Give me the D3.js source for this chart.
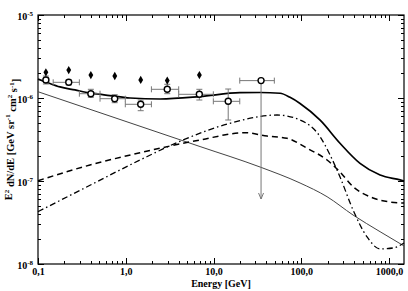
<!DOCTYPE html>
<html lang="en">
<head>
<meta charset="utf-8">
<title>Gamma-ray spectrum</title>
<style>
body{
  margin: 0;
  background: #fff;
}
#chart text{
  font-family: "Liberation Serif", "DejaVu Serif", serif;
  font-weight: bold;
  fill: #000;
}
.axis path.domain{
  display: none;
}
.axis line{
  stroke: #000;
  shape-rendering: crispEdges;
}
</style>
<script src="https://d3js.org/d3.v7.min.js"></script>
</head>
<body>
<div id="chart"></div>
<script>
/* filled diamonds */
var diamondE = [0.123, 0.224, 0.40, 0.75, 1.48, 2.97, 6.9];
var diamondFlux = [2.04e-6, 2.17e-6, 1.89e-6, 1.84e-6, 1.65e-6, 1.62e-6, 1.89e-6];

/* open circles with error bars */
var pointE = [0.123, 0.224, 0.40, 0.748, 1.48, 2.97, 6.89, 14.7];
var pointElo = [0.117, 0.149, 0.296, 0.509, 0.988, 1.96, 4.01, 9.95];
var pointEhi = [0.132, 0.296, 0.509, 0.988, 1.96, 4.01, 9.95, 19.9];
var pointFlux = [1.65e-6, 1.545e-6, 1.127e-6, 9.81e-7, 8.40e-7, 1.273e-6, 1.108e-6, 9.12e-7];
var pointFluxHi = [1.84e-6, 1.65e-6, 1.273e-6, 1.096e-6, 9.46e-7, 1.463e-6, 1.273e-6, 1.283e-6];
var pointFluxLo = [1.475e-6, 1.435e-6, 1.02e-6, 8.78e-7, 7.03e-7, 1.127e-6, 9.46e-7, 5.43e-7];

/* upper limit point */
var limitE = [34.8], limitElo = [19.9], limitEhi = [49.3];
var limitFlux = [1.62e-6], limitArrowTo = [6.07e-8];

/* model curves */
var totalE = [0.1, 0.123, 0.178, 0.264, 0.391, 0.661, 1.12, 2.46, 7.0, 20.0, 33.9, 57.3, 74.4, 96.8, 164, 276, 467, 790, 1335, 1480];
var totalFlux = [1.69e-6, 1.56e-6, 1.36e-6, 1.25e-6, 1.15e-6, 1.07e-6, 1.0e-6, 9.73e-7, 1.04e-6, 1.16e-6, 1.165e-6, 1.14e-6, 1.02e-6, 8.6e-7, 5.4e-7, 2.85e-7, 1.63e-7, 1.18e-7, 1.03e-7, 1.0e-7];

var thinE = [0.1, 0.86, 7.02, 33.9, 96.8, 196.6, 389, 790, 1480];
var thinFlux = [1.19e-6, 5.51e-7, 2.60e-7, 1.474e-7, 9.46e-8, 6.47e-8, 3.89e-8, 2.45e-8, 1.65e-8];

var dashE = [0.1, 0.391, 1.453, 7.02, 22.9, 40.7, 68.8, 116.3, 196.6, 276, 389, 657, 1027, 1480];
var dashFlux = [1.008e-7, 1.559e-7, 2.19e-7, 3.12e-7, 3.82e-7, 3.48e-7, 3.27e-7, 2.48e-7, 1.79e-7, 1.284e-7, 8.54e-8, 6.24e-8, 5.58e-8, 5.43e-8];

var dashDotE = [0.1, 0.391, 1.453, 4.49, 15.4, 52.9, 96.8, 163.6, 212.6, 276.4, 389, 561.5, 790, 1111, 1480];
var dashDotFlux = [4.27e-8, 8.88e-8, 1.79e-7, 3.12e-7, 4.96e-7, 6.24e-7, 5.43e-7, 3.42e-7, 2.06e-7, 1.117e-7, 4.47e-8, 2.12e-8, 1.52e-8, 1.56e-8, 1.79e-8];

/* ticks */
var xMajor = [0.1, 1, 10, 100, 1000];
var xLabels = ['0,1', '1,0', '10,0', '100,0', '1000,0'];
var yMajor = [1e-8, 1e-7, 1e-6, 1e-5];
var yExp = ['-8', '-7', '-6', '-5'];

var W = 408, H = 291;
var margin = { top: 15, right: 4, bottom: 27, left: 38 };
var width = W - margin.left - margin.right, height = H - margin.top - margin.bottom;

var xScale = d3.scaleLog().domain([0.1, 1480]).range([0, width]);
var yScale = d3.scaleLog().domain([1e-8, 1e-5]).range([height, 0]);

var svg = d3.select('#chart').append('svg')
  .attr('width', W)
  .attr('height', H);

var graph = svg.append('g')
  .attr('transform', 'translate(' + margin.left + ',' + margin.top + ')');

var xMinor = xScale.ticks().filter(function(d) { return xMajor.indexOf(d) < 0; });
var yMinor = yScale.ticks().filter(function(d) { return yMajor.indexOf(d) < 0; });

/* bottom axis */
graph.append('g').attr('class', 'axis')
  .attr('transform', 'translate(0,' + height + ')')
  .call(d3.axisBottom(xScale).tickValues(xMajor).tickSize(-6).tickPadding(4)
    .tickFormat(function(d, i) { return xLabels[i]; }))
  .selectAll('text').style('font-size', '10px');
graph.append('g').attr('class', 'axis')
  .attr('transform', 'translate(0,' + height + ')')
  .call(d3.axisBottom(xScale).tickValues(xMinor).tickSize(-3).tickFormat(''));

/* top axis */
graph.append('g').attr('class', 'axis')
  .call(d3.axisTop(xScale).tickValues(xMajor).tickSize(-6).tickFormat(''));
graph.append('g').attr('class', 'axis')
  .call(d3.axisTop(xScale).tickValues(xMinor).tickSize(-3).tickFormat(''));

/* left axis */
var yAx = graph.append('g').attr('class', 'axis')
  .call(d3.axisLeft(yScale).tickValues(yMajor).tickSize(-6).tickPadding(5).tickFormat(''));
yAx.selectAll('.tick text').each(function(d, i) {
  var t = d3.select(this).style('font-size', '10px').attr('dy', '0.45em');
  t.text('10');
  t.append('tspan').attr('dy', '-0.55em').style('font-size', '7px').text(yExp[i]);
});
graph.append('g').attr('class', 'axis')
  .call(d3.axisLeft(yScale).tickValues(yMinor).tickSize(-3).tickFormat(''));

/* right axis */
graph.append('g').attr('class', 'axis')
  .attr('transform', 'translate(' + width + ',0)')
  .call(d3.axisRight(yScale).tickValues(yMajor).tickSize(-6).tickFormat(''));
graph.append('g').attr('class', 'axis')
  .attr('transform', 'translate(' + width + ',0)')
  .call(d3.axisRight(yScale).tickValues(yMinor).tickSize(-3).tickFormat(''));

/* frame */
graph.append('rect')
  .attr('width', width)
  .attr('height', height)
  .style('fill', 'none')
  .style('stroke', '#000')
  .style('stroke-width', 1.2);

/* curves */
function curve(es, fs) {
  return d3.line()
    .x(function(d) { return xScale(d[0]); })
    .y(function(d) { return yScale(d[1]); })
    .curve(d3.curveMonotoneX)(es.map(function(e, i) { return [e, fs[i]]; }));
}

var plot = graph.append('g');

plot.append('path').attr('d', curve(thinE, thinFlux))
  .style('fill', 'none').style('stroke', '#444').style('stroke-width', 1);
plot.append('path').attr('d', curve(dashE, dashFlux))
  .style('fill', 'none').style('stroke', '#000').style('stroke-width', 1.5)
  .style('stroke-dasharray', '6,4');
plot.append('path').attr('d', curve(dashDotE, dashDotFlux))
  .style('fill', 'none').style('stroke', '#000').style('stroke-width', 1.3)
  .style('stroke-dasharray', '6,3,1.5,3');
plot.append('path').attr('d', curve(totalE, totalFlux))
  .style('fill', 'none').style('stroke', '#000').style('stroke-width', 1.7);

/* error bars */
var grey = '#777', cap = 3;
var bars = plot.append('g').style('stroke', grey).style('stroke-width', 1);
pointE.forEach(function(e, i) {
  var cx = xScale(e), cy = yScale(pointFlux[i]);
  var x0 = xScale(pointElo[i]), x1 = xScale(pointEhi[i]);
  var y0 = yScale(pointFluxHi[i]), y1 = yScale(pointFluxLo[i]);
  bars.append('line').attr('x1', x0).attr('x2', x1).attr('y1', cy).attr('y2', cy);
  bars.append('line').attr('x1', x0).attr('x2', x0).attr('y1', cy - cap).attr('y2', cy + cap);
  bars.append('line').attr('x1', x1).attr('x2', x1).attr('y1', cy - cap).attr('y2', cy + cap);
  bars.append('line').attr('x1', cx).attr('x2', cx).attr('y1', y0).attr('y2', y1);
  bars.append('line').attr('x1', cx - cap).attr('x2', cx + cap).attr('y1', y0).attr('y2', y0);
  bars.append('line').attr('x1', cx - cap).attr('x2', cx + cap).attr('y1', y1).attr('y2', y1);
});

/* upper limit */
limitE.forEach(function(e, i) {
  var cx = xScale(e), cy = yScale(limitFlux[i]);
  var x0 = xScale(limitElo[i]), x1 = xScale(limitEhi[i]);
  var yEnd = yScale(limitArrowTo[i]);
  bars.append('line').attr('x1', x0).attr('x2', x1).attr('y1', cy).attr('y2', cy);
  bars.append('line').attr('x1', x0).attr('x2', x0).attr('y1', cy - cap).attr('y2', cy + cap);
  bars.append('line').attr('x1', x1).attr('x2', x1).attr('y1', cy - cap).attr('y2', cy + cap);
  bars.append('line').attr('x1', cx).attr('x2', cx).attr('y1', cy).attr('y2', yEnd);
  bars.append('path')
    .attr('d', 'M' + (cx - 2.5) + ',' + (yEnd - 6) + 'L' + cx + ',' + yEnd + 'L' + (cx + 2.5) + ',' + (yEnd - 6))
    .style('fill', 'none');
});

/* circles */
plot.selectAll('circle.pt')
  .data(pointE.concat(limitE))
  .enter().append('circle')
  .attr('class', 'pt')
  .attr('cx', function(d) { return xScale(d); })
  .attr('cy', function(d, i) { return yScale(pointFlux.concat(limitFlux)[i]); })
  .attr('r', 3)
  .style('fill', '#fff')
  .style('stroke', '#000')
  .style('stroke-width', 1.4);

/* diamonds */
plot.selectAll('path.dia')
  .data(diamondE)
  .enter().append('path')
  .attr('class', 'dia')
  .attr('d', d3.symbol().type(d3.symbolDiamond).size(20))
  .attr('transform', function(d, i) { return 'translate(' + xScale(d) + ',' + yScale(diamondFlux[i]) + ')'; })
  .style('fill', '#000');

/* axis titles */
svg.append('text')
  .attr('x', margin.left + width / 2)
  .attr('y', 287)
  .attr('text-anchor', 'middle')
  .style('font-size', '10px')
  .text('Energy [GeV]');

var yt = svg.append('text')
  .attr('transform', 'translate(12,' + (margin.top + height / 2) + ') rotate(-90)')
  .attr('text-anchor', 'middle')
  .style('font-size', '10.5px');
yt.append('tspan').text('E');
yt.append('tspan').attr('dy', '-0.5em').style('font-size', '7px').text('2');
yt.append('tspan').attr('dy', '0.5em').text(' dN/dE [GeV sr');
yt.append('tspan').attr('dy', '-0.5em').style('font-size', '7px').text('-1');
yt.append('tspan').attr('dy', '0.5em').text(' cm');
yt.append('tspan').attr('dy', '-0.5em').style('font-size', '7px').text('2');
yt.append('tspan').attr('dy', '0.5em').text(' s');
yt.append('tspan').attr('dy', '-0.5em').style('font-size', '7px').text('-1');
yt.append('tspan').attr('dy', '0.5em').text(']');
</script>
</body>
</html>
